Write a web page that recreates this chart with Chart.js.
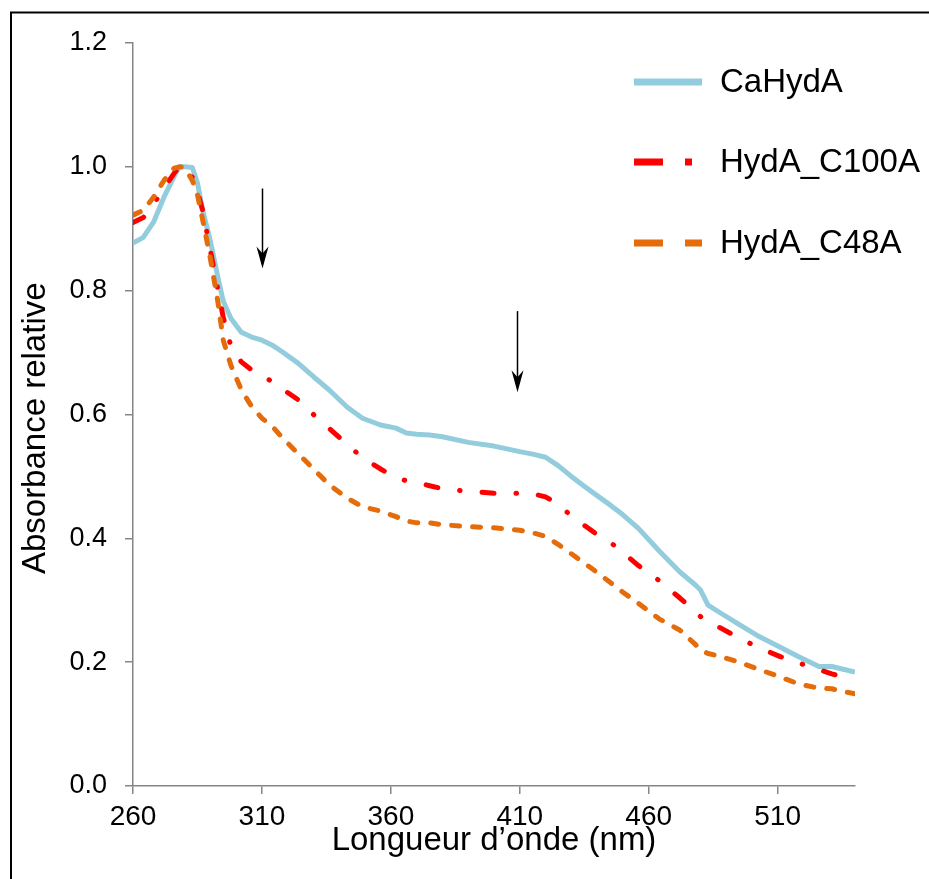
<!DOCTYPE html>
<html><head><meta charset="utf-8">
<script src="https://cdn.jsdelivr.net/npm/chart.js@4"></script>
<style>html,body{margin:0;padding:0;background:#fff;} canvas{display:block;}</style>
</head><body>
<canvas id="c" width="929" height="879"></canvas>
<script>
// ---- data ----
const wavelengths = [260,264,268,272,276,278,280,283,285,287,290,293,295,298,302,306,310,314,318,324,330,336,343,349,356,362,366,370,375,380,390,400,410,415,420,425,430,435,440,445,450,456,464,472,478,480,483,488,495,503,511,518,526,531,535,540];
const caHydA = [0.877,0.886,0.911,0.951,0.985,1.0,1.0,0.999,0.974,0.93,0.88,0.82,0.783,0.755,0.733,0.725,0.72,0.712,0.701,0.683,0.661,0.64,0.612,0.594,0.583,0.578,0.570,0.568,0.567,0.564,0.555,0.549,0.540,0.536,0.531,0.517,0.50,0.484,0.469,0.454,0.438,0.416,0.38,0.346,0.325,0.317,0.292,0.279,0.261,0.241,0.224,0.209,0.193,0.193,0.189,0.184];
const hydA_C100A = [0.91,0.918,0.94,0.965,0.99,1.0,0.998,0.983,0.96,0.93,0.865,0.80,0.757,0.71,0.685,0.672,0.663,0.653,0.641,0.624,0.60,0.578,0.552,0.530,0.512,0.498,0.493,0.49,0.485,0.48,0.476,0.473,0.473,0.472,0.467,0.455,0.436,0.421,0.406,0.394,0.377,0.356,0.332,0.304,0.282,0.274,0.264,0.255,0.239,0.223,0.209,0.199,0.188,0.181,0.177,null];
const hydA_C48A = [0.922,0.930,0.951,0.978,0.998,1.0,0.999,0.978,0.955,0.915,0.852,0.78,0.72,0.679,0.64,0.613,0.594,0.581,0.562,0.537,0.512,0.487,0.465,0.451,0.444,0.435,0.428,0.425,0.425,0.422,0.419,0.417,0.413,0.409,0.403,0.39,0.375,0.36,0.345,0.329,0.313,0.295,0.27,0.252,0.229,0.22,0.214,0.209,0.2,0.188,0.176,0.165,0.158,0.157,0.153,0.149];
const seriesNames = ['CaHydA', 'HydA_C100A', 'HydA_C48A'];
const xTicks = [260, 310, 360, 410, 460, 510];
const yTicks = [0, 0.2, 0.4, 0.6, 0.8, 1.0, 1.2];
const arrowMarks = [
  {x: 310, from: 0.965, to: 0.836},
  {x: 409, from: 0.767, to: 0.636}
];

// ---- styling ----
const FONT = "'Liberation Sans', Arial, sans-serif";
const colors = ['#93CDDD', '#FF0000', '#E46C0A'];
const chartDash = [[], [12, 22, 0.5, 22], [8, 13]];
const legendDash = [[], [29, 22, 7, 22], [29, 22]];

const toXY = arr => wavelengths.map((w, i) => ({x: w, y: arr[i]}));

const decorPlugin = {
  id: 'decor',
  beforeDraw(chart) {
    const c = chart.ctx;
    c.save();
    c.fillStyle = '#fff';
    c.fillRect(0, 0, chart.width, chart.height);
    c.restore();
  },
  afterDraw(chart) {
    const c = chart.ctx;
    const xs = chart.scales.x, ys = chart.scales.y;
    c.save();
    // frame
    c.strokeStyle = '#000';
    c.lineWidth = 2;
    c.strokeRect(11, 12.5, chart.width + 20, chart.height + 20);
    // arrows
    arrowMarks.forEach(a => {
      const px = Math.round(xs.getPixelForValue(a.x)) + 0.5;
      const y1 = ys.getPixelForValue(a.from);
      const y2 = ys.getPixelForValue(a.to);
      c.strokeStyle = '#000';
      c.lineWidth = 1.5;
      c.beginPath();
      c.moveTo(px, y1);
      c.lineTo(px, y2 - 12);
      c.stroke();
      c.fillStyle = '#000';
      c.beginPath();
      c.moveTo(px, y2);
      c.lineTo(px - 6, y2 - 22);
      c.lineTo(px, y2 - 15);
      c.lineTo(px + 6, y2 - 22);
      c.closePath();
      c.fill();
    });
    // legend
    const lx1 = 634, lx2 = 702, tx = 720;
    const ly = [82, 162, 243];
    seriesNames.forEach((name, i) => {
      c.strokeStyle = colors[i];
      c.lineWidth = 7;
      c.lineCap = 'butt';
      c.setLineDash(legendDash[i]);
      c.beginPath();
      c.moveTo(lx1, ly[i]);
      c.lineTo(lx2, ly[i]);
      c.stroke();
      c.setLineDash([]);
      c.fillStyle = '#000';
      c.font = '33px ' + FONT;
      c.textBaseline = 'middle';
      c.textAlign = 'left';
      c.fillText(name, tx, ly[i] + 1);
    });
    c.restore();
  }
};

const series = [caHydA, hydA_C100A, hydA_C48A];
const orders = [2, 1, 0];
const datasets = series.map((arr, i) => ({
  label: seriesNames[i],
  data: toXY(arr),
  borderColor: colors[i],
  backgroundColor: colors[i],
  borderWidth: 5,
  borderDash: chartDash[i],
  borderCapStyle: i === 0 ? 'butt' : 'round',
  borderJoinStyle: 'round',
  pointRadius: 0,
  tension: 0,
  fill: false,
  spanGaps: false,
  order: orders[i]
}));

new Chart(document.getElementById('c'), {
  type: 'line',
  data: {datasets},
  plugins: [decorPlugin],
  options: {
    responsive: false,
    animation: false,
    devicePixelRatio: 1,
    layout: {padding: {top: 43, right: 74, bottom: 0, left: 0}},
    plugins: {legend: {display: false}, tooltip: {enabled: false}},
    scales: {
      x: {
        type: 'linear', min: 260, max: 540,
        afterBuildTicks: s => { s.ticks = xTicks.map(v => ({value: v})); },
        afterFit: s => { s.height = 93; },
        grid: {display: true, drawOnChartArea: false, drawTicks: true, tickLength: 8, color: '#868686', lineWidth: 1.5},
        border: {display: true, color: '#868686', width: 1.5},
        ticks: {font: {family: FONT, size: 28}, color: '#000', padding: 6, maxRotation: 0, autoSkip: false, callback: v => String(v)},
        title: {display: true, text: 'Longueur d\u2019onde (nm)', font: {family: FONT, size: 33}, color: '#000', padding: {top: 0, bottom: 18}}
      },
      y: {
        type: 'linear', min: 0, max: 1.2,
        afterBuildTicks: s => { s.ticks = yTicks.map(v => ({value: v})); },
        afterFit: s => { s.width = 133; },
        grid: {display: true, drawOnChartArea: false, drawTicks: true, tickLength: 8, color: '#868686', lineWidth: 1.5},
        border: {display: true, color: '#868686', width: 1.5},
        ticks: {font: {family: FONT, size: 27}, color: '#000', padding: 18, autoSkip: false, callback: v => Number(v).toFixed(1)},
        title: {display: true, text: 'Absorbance relative   ', font: {family: FONT, size: 33}, color: '#000', padding: {top: 16, bottom: 0}}
      }
    }
  }
});
</script>
</body></html>
